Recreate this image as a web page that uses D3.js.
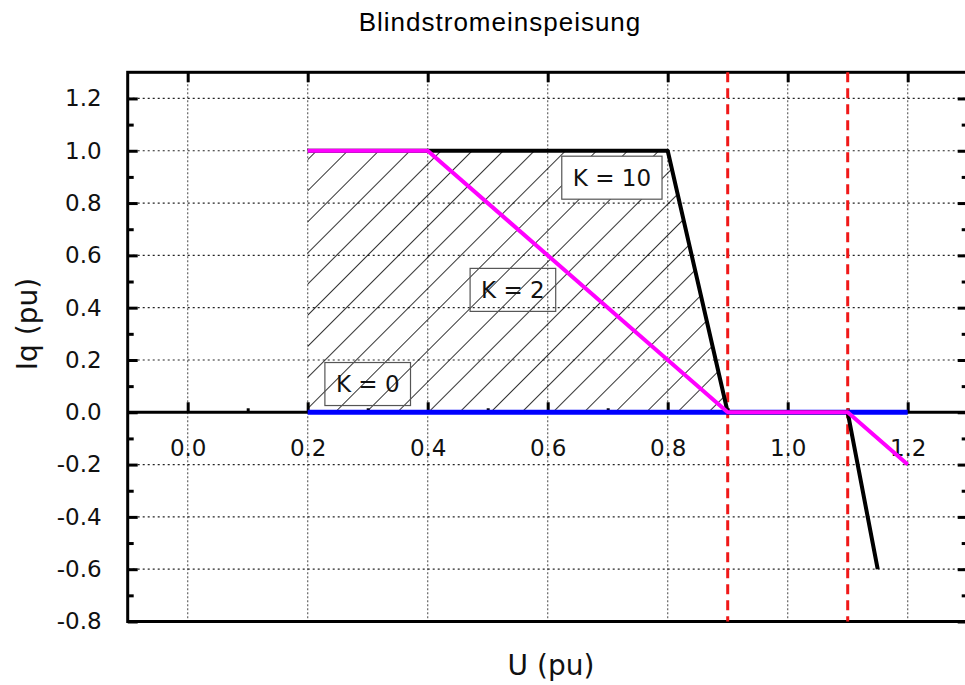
<!DOCTYPE html>
<html>
<head>
<meta charset="utf-8">
<script src="https://cdn.jsdelivr.net/npm/d3@7"></script>
<style>
  body { margin: 0; background: #fff; }
  svg { display: block; }
</style>
</head>
<body>
<script>
// axis ticks
const xTicks = [0.0, 0.2, 0.4, 0.6, 0.8, 1.0, 1.2];
const xMinor = [0.1, 0.3, 0.5, 0.7, 0.9, 1.1];
const yTicks = [-0.8, -0.6, -0.4, -0.2, 0.0, 0.2, 0.4, 0.6, 0.8, 1.0, 1.2];
const yMinor = [-0.7, -0.5, -0.3, -0.1, 0.1, 0.3, 0.5, 0.7, 0.9, 1.1];

// characteristic curves (U in pu, Iq in pu)
const uK0 = [0.2, 1.2];
const iqK0 = [0.0, 0.0];
const uK10 = [0.2, 0.8, 0.9, 1.1, 1.15];
const iqK10 = [1.0, 1.0, 0.0, 0.0, -0.6];
const uK2 = [0.2, 0.4, 0.9, 1.1, 1.2];
const iqK2 = [1.0, 1.0, 0.0, 0.0, -0.2];

// hatched region
const uArea = [0.2, 0.2, 0.8, 0.9];
const iqArea = [0.0, 1.0, 1.0, 0.0];

// voltage limits (red dashed)
const uLimits = [0.9, 1.1];

// curve labels
const labelText = ['K = 0', 'K = 2', 'K = 10'];
const labelU = [0.3, 0.542, 0.707];
const labelIq = [0.108, 0.468, 0.897];

const W = 965, H = 685;
const x = d3.scaleLinear().domain([-0.1, 1.3]).range([127.7, 967.7]);
const y = d3.scaleLinear().domain([-0.8, 1.3]).range([621.5, 72.3]);
const FONT = '"DejaVu Sans", Verdana, sans-serif';
const fmt = d => d3.format('.1f')(d).replace('\u2212', '-');

const svg = d3.select('body').append('svg')
    .attr('width', W)
    .attr('height', H);

svg.append('defs').append('pattern')
    .attr('id', 'hatch')
    .attr('patternUnits', 'userSpaceOnUse')
    .attr('width', 22)
    .attr('height', 22)
    .attr('patternTransform', 'rotate(45)')
  .append('line')
    .attr('x1', 0).attr('y1', 0)
    .attr('x2', 0).attr('y2', 22)
    .attr('stroke', '#000')
    .attr('stroke-width', 1.6);

// title
svg.append('text')
    .attr('x', 500).attr('y', 31)
    .attr('text-anchor', 'middle')
    .style('font-family', '"Liberation Sans", Arial, sans-serif')
    .style('font-size', '26px')
    .style('letter-spacing', '1px')
    .text('Blindstromeinspeisung');

// grid
const grid = svg.append('g');
grid.selectAll('.vg')
    .data(xTicks).enter()
    .append('line')
        .attr('x1', d => x(d)).attr('x2', d => x(d))
        .attr('y1', y(1.3)).attr('y2', y(-0.8))
        .attr('stroke', '#666')
        .attr('stroke-width', 1.2)
        .attr('stroke-dasharray', '2,2');
grid.selectAll('.hg')
    .data(yTicks.filter(d => d > -0.8 && d !== 0)).enter()
    .append('line')
        .attr('x1', x(-0.1)).attr('x2', x(1.3))
        .attr('y1', d => y(d)).attr('y2', d => y(d))
        .attr('stroke', '#222')
        .attr('stroke-width', 1.2)
        .attr('stroke-dasharray', '2,3');

// hatched area
const line = d3.line().x(d => x(d[0])).y(d => y(d[1]));
svg.append('path')
    .attr('d', line(d3.zip(uArea, iqArea)) + 'Z')
    .attr('fill', 'url(#hatch)')
    .attr('stroke', 'none');

// axes
function styleAxis(g) {
    g.select('.domain').remove();
    g.selectAll('.tick line').attr('stroke', '#000').attr('stroke-width', 3);
    g.selectAll('.tick text')
        .attr('fill', '#111')
        .style('font-family', FONT)
        .style('font-size', '23px');
}

svg.append('g')
    .attr('transform', `translate(${x(-0.1)},0)`)
    .call(d3.axisLeft(y).tickValues(yTicks).tickSizeInner(-10).tickSizeOuter(0)
        .tickPadding(26).tickFormat(fmt))
    .call(styleAxis);
svg.append('g')
    .attr('transform', `translate(${x(-0.1)},0)`)
    .call(d3.axisLeft(y).tickValues(yMinor).tickSizeInner(-6).tickSizeOuter(0).tickFormat(''))
    .call(styleAxis);
svg.append('g')
    .attr('transform', `translate(${x(1.3)},0)`)
    .call(d3.axisRight(y).tickValues(yTicks).tickSizeInner(-10).tickSizeOuter(0).tickFormat(''))
    .call(styleAxis);
svg.append('g')
    .attr('transform', `translate(${x(1.3)},0)`)
    .call(d3.axisRight(y).tickValues(yMinor).tickSizeInner(-6).tickSizeOuter(0).tickFormat(''))
    .call(styleAxis);
svg.append('g')
    .attr('transform', `translate(0,${y(1.3)})`)
    .call(d3.axisTop(x).tickValues(xTicks).tickSizeInner(-10).tickSizeOuter(0).tickFormat(''))
    .call(styleAxis);

// zero line with ticks and labels
svg.append('line')
    .attr('x1', x(-0.1)).attr('x2', x(1.3))
    .attr('y1', y(0)).attr('y2', y(0))
    .attr('stroke', '#000')
    .attr('stroke-width', 3);
svg.append('g')
    .attr('transform', `translate(0,${y(0)})`)
    .call(d3.axisBottom(x).tickValues(xTicks).tickSizeInner(-10).tickSizeOuter(0)
        .tickPadding(27).tickFormat(fmt))
    .call(styleAxis);
svg.append('g')
    .attr('transform', `translate(0,${y(0)})`)
    .call(d3.axisBottom(x).tickValues(xMinor).tickSizeInner(-4).tickSizeOuter(0).tickFormat(''))
    .call(styleAxis);

// frame
svg.append('rect')
    .attr('x', x(-0.1)).attr('y', y(1.3))
    .attr('width', x(1.3) - x(-0.1))
    .attr('height', y(-0.8) - y(1.3))
    .attr('fill', 'none')
    .attr('stroke', '#000')
    .attr('stroke-width', 3);

// limits
svg.selectAll('.limit')
    .data(uLimits).enter()
    .append('line')
        .attr('x1', d => x(d)).attr('x2', d => x(d))
        .attr('y1', y(1.3)).attr('y2', y(-0.8))
        .attr('stroke', '#f01818')
        .attr('stroke-width', 3)
        .attr('stroke-dasharray', '10,6');

// curves: K=0, K=10, K=2 (drawn in this order)
const series = [
    { u: uK0, iq: iqK0, color: '#0000ff', w: 5 },
    { u: uK10, iq: iqK10, color: '#000000', w: 4 },
    { u: uK2, iq: iqK2, color: '#ff00ff', w: 4 },
];
svg.selectAll('.curve')
    .data(series).enter()
    .append('path')
        .attr('d', d => line(d3.zip(d.u, d.iq)))
        .attr('fill', 'none')
        .attr('stroke', d => d.color)
        .attr('stroke-width', d => d.w)
        .attr('stroke-linejoin', 'round');

// labels
labelText.forEach((t, i) => {
    const g = svg.append('g')
        .attr('transform', `translate(${x(labelU[i])},${y(labelIq[i])})`);
    const rect = g.append('rect');
    const txt = g.append('text')
        .attr('text-anchor', 'middle')
        .attr('dy', '0.36em')
        .attr('fill', '#111')
        .style('font-family', FONT)
        .style('font-size', '23px')
        .text(t);
    const bb = txt.node().getBBox();
    rect
        .attr('x', bb.x - 11)
        .attr('y', -21.5)
        .attr('width', bb.width + 22)
        .attr('height', 43)
        .attr('fill', t === 'K = 10' ? '#fff' : 'none')
        .attr('stroke', '#555')
        .attr('stroke-width', 1.2);
});

// axis titles
svg.append('text')
    .attr('x', 551).attr('y', 675)
    .attr('text-anchor', 'middle')
    .style('font-family', FONT)
    .style('font-size', '28px')
    .attr('fill', '#111')
    .text('U (pu)');
svg.append('text')
    .attr('transform', 'translate(37,324) rotate(-90)')
    .attr('text-anchor', 'middle')
    .style('font-family', FONT)
    .style('font-size', '28px')
    .attr('fill', '#111')
    .text('Iq (pu)');
</script>
</body>
</html>
